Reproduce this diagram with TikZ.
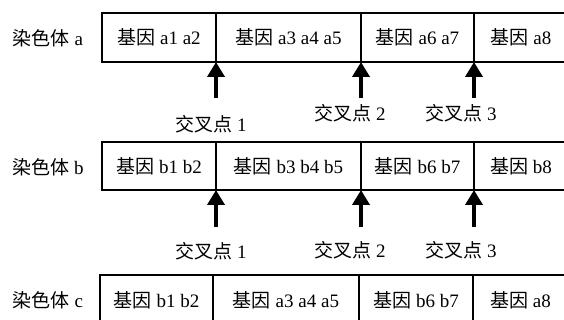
\documentclass[tikz,border=0pt]{standalone}
\usepackage{fontspec}
\setmainfont{Liberation Serif}
\newfontfamily\cjk{Noto Sans CJK SC}
\usetikzlibrary{arrows.meta}
\newcommand\fs{\fontsize{19pt}{21pt}\selectfont}
\newcommand\gene[1]{{\cjk 基因} #1}
\newcommand\chrom[1]{{\cjk 染色体} #1}
\newcommand\cross[1]{{\cjk 交叉点} #1}
\begin{document}
\begin{tikzpicture}[x=1pt,y=-1pt,
  cell/.style={draw,line width=1.8pt,inner sep=0pt,outer sep=0pt,anchor=north west,font=\fs},
  lbl/.style={font=\fs,inner sep=0pt},
  xarrow/.style={line width=4.2pt,-{Triangle[length=15pt,width=17pt]}}]
\useasboundingbox (0,0) rectangle (564,320);
\clip (0,0) rectangle (564,320);

% chromosome a
\node[lbl] (ca) at (48,38) {\chrom{a}};
\node[cell,minimum width=114pt,minimum height=49pt] (a1) at (102,13) {\gene{a1 a2}};
\node[cell,minimum width=145pt,minimum height=49pt] (a2) at (216,13) {\gene{a3 a4 a5}};
\node[cell,minimum width=113pt,minimum height=49pt] (a3) at (361,13) {\gene{a6 a7}};
\node[cell,minimum width=94pt,minimum height=49pt] (a4) at (474,13) {\gene{a8}};

% crossover points between a and b
\coordinate (pa1) at (216,98);
\coordinate (pa2) at (361,98);
\coordinate (pa3) at (474,98);
\draw[xarrow] (pa1) -- (pa1 |- a1.south east);
\draw[xarrow] (pa2) -- (pa2 |- a2.south east);
\draw[xarrow] (pa3) -- (pa3 |- a3.south east);
\node[lbl] (xa1) at (211,124) {\cross{1}};
\node[lbl] (xa2) at (350,113) {\cross{2}};
\node[lbl] (xa3) at (461,113) {\cross{3}};

% chromosome b
\node[lbl] (cb) at (48,167) {\chrom{b}};
\node[cell,minimum width=114pt,minimum height=48pt] (b1) at (102,142) {\gene{b1 b2}};
\node[cell,minimum width=145pt,minimum height=48pt] (b2) at (216,142) {\gene{b3 b4 b5}};
\node[cell,minimum width=113pt,minimum height=48pt] (b3) at (361,142) {\gene{b6 b7}};
\node[cell,minimum width=94pt,minimum height=48pt] (b4) at (474,142) {\gene{b8}};

% crossover points between b and c
\coordinate (pb1) at (216,227);
\coordinate (pb2) at (361,227);
\coordinate (pb3) at (474,227);
\draw[xarrow] (pb1) -- (pb1 |- b1.south east);
\draw[xarrow] (pb2) -- (pb2 |- b2.south east);
\draw[xarrow] (pb3) -- (pb3 |- b3.south east);
\node[lbl] (xb1) at (211,251) {\cross{1}};
\node[lbl] (xb2) at (350,250) {\cross{2}};
\node[lbl] (xb3) at (461,250) {\cross{3}};

% chromosome c (recombined)
\node[lbl] (cc) at (48,300) {\chrom{c}};
\node[cell,minimum width=113pt,minimum height=50pt] (c1) at (100,275) {\gene{b1 b2}};
\node[cell,minimum width=146pt,minimum height=50pt] (c2) at (213,275) {\gene{a3 a4 a5}};
\node[cell,minimum width=114pt,minimum height=50pt] (c3) at (359,275) {\gene{b6 b7}};
\node[cell,minimum width=95pt,minimum height=50pt] (c4) at (473,275) {\gene{a8}};
\end{tikzpicture}
\end{document}
